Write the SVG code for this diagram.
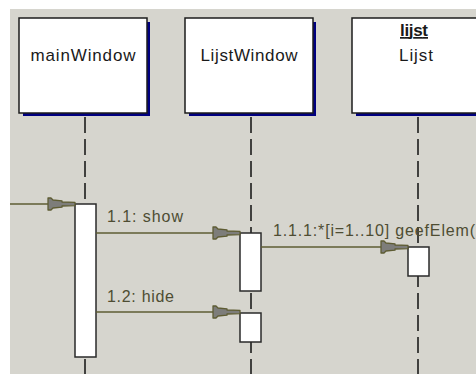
<svg xmlns="http://www.w3.org/2000/svg" width="476" height="374" viewBox="0 0 476 374">
  <defs>
    <style>
      .obj-shadow { fill: #000080; }
      .obj-box { fill: #ffffff; stroke: #1c1c1c; stroke-width: 1.5; }
      .obj-text { font-family: "Liberation Sans", Arial, sans-serif; font-size: 17px; fill: #1a1a1a; text-anchor: middle; }
      .obj-name { font-weight: bold; text-decoration: underline; }
      .lifeline { stroke: #111111; stroke-width: 1.5; stroke-dasharray: 16 6; fill: none; }
      .activation { fill: #ffffff; stroke: #2a2a2a; stroke-width: 1.5; }
      .msg { stroke: #5e5c33; stroke-width: 1.5; fill: none; }
      .msg-label { font-family: "Liberation Sans", Arial, sans-serif; font-size: 16px; fill: #4e4d33; }
      .head { fill: #7d7d7a; stroke: #5e5c33; stroke-width: 1.3; stroke-linejoin: round; }
    </style>
    <!-- message arrowhead, tip at origin, pointing right -->
    <path id="arrowhead" class="head" d="M-27,-6 L-24,-6 L-22,-4 L-13,-3.2 L-13,-2 L0,-1.6 L0,1.6 L-13,2 L-13,3.2 L-22,4 L-24,6 L-27,6 Z"/>
  </defs>

  <!-- canvas -->
  <rect x="0" y="0" width="476" height="374" fill="#ffffff"/>
  <rect x="10" y="9" width="466" height="365" fill="#d6d5ce"/>

  <!-- lifelines -->
  <g id="lifelines">
    <line class="lifeline" x1="85" y1="117" x2="85" y2="374"/>
    <line class="lifeline" x1="251" y1="117" x2="251" y2="374"/>
    <line class="lifeline" x1="418" y1="117" x2="418" y2="374"/>
  </g>

  <g id="mainWindow">
    <rect class="obj-shadow" x="23" y="22" width="127" height="94"/>
    <rect class="obj-box" x="19" y="18" width="128" height="95"/>
    <text class="obj-text" x="83" y="61" textLength="105" lengthAdjust="spacing">mainWindow</text>
    <rect class="activation" x="75" y="204" width="21" height="153"/>
  </g>

  <g id="LijstWindow">
    <rect class="obj-shadow" x="189" y="22" width="127" height="94"/>
    <rect class="obj-box" x="185" y="18" width="128" height="95"/>
    <text class="obj-text" x="249" y="61" textLength="97" lengthAdjust="spacing">LijstWindow</text>
    <rect class="activation" x="240" y="233" width="21" height="58"/>
    <rect class="activation" x="240" y="313" width="21" height="29"/>
  </g>

  <g id="lijst">
    <rect class="obj-shadow" x="356" y="22" width="127" height="94"/>
    <rect class="obj-box" x="352" y="18" width="128" height="95"/>
    <text class="obj-text obj-name" x="414" y="36" textLength="28" lengthAdjust="spacing">lijst</text>
    <text class="obj-text" x="416" y="61" textLength="34" lengthAdjust="spacing">Lijst</text>
    <rect class="activation" x="408" y="247" width="21" height="29"/>
  </g>

  <!-- messages -->
  <g id="connectors">
    <line class="msg" x1="10" y1="204" x2="75" y2="204"/>
    <use href="#arrowhead" x="75" y="204"/>

    <line class="msg" x1="96" y1="233" x2="240" y2="233"/>
    <use href="#arrowhead" x="240" y="233"/>
    <text class="msg-label" x="107" y="222" textLength="76" lengthAdjust="spacing">1.1: show</text>

    <line class="msg" x1="261" y1="247" x2="408" y2="247"/>
    <use href="#arrowhead" x="408" y="247"/>
    <text class="msg-label" x="273" y="236" textLength="202" lengthAdjust="spacing">1.1.1:*[i=1..10] geefElem(</text>

    <line class="msg" x1="96" y1="312" x2="240" y2="312"/>
    <use href="#arrowhead" x="240" y="312"/>
    <text class="msg-label" x="107" y="302" textLength="67" lengthAdjust="spacing">1.2: hide</text>
  </g>
</svg>
